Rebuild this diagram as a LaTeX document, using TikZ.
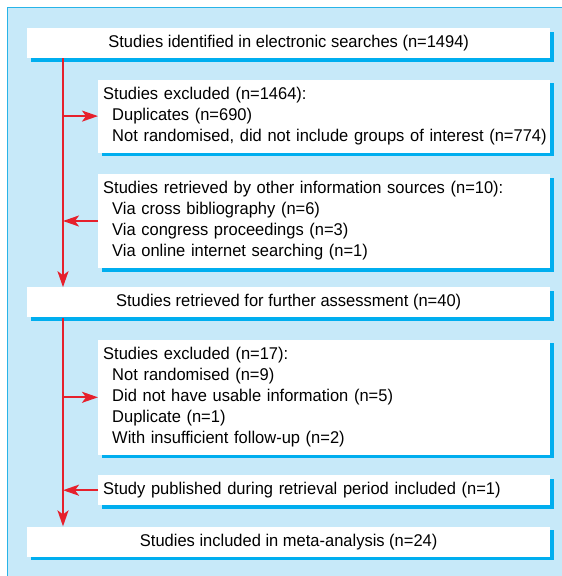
\documentclass[tikz,border=0pt]{standalone}
\usepackage{fontspec}
\setmainfont{Liberation Sans}[FakeStretch=0.97]
\usetikzlibrary{positioning,arrows.meta,shadows}
\definecolor{panelblue}{RGB}{199,233,249}
\definecolor{edgeblue}{RGB}{40,180,232}
\definecolor{shadowblue}{RGB}{0,174,239}
\definecolor{flowred}{RGB}{230,32,44}

\begin{document}
\begin{tikzpicture}[x=1pt, y=-1pt,
    every node/.style={font=\fontsize{17}{21}\selectfont},
    box/.style={rectangle, fill=white, inner xsep=5pt, inner ysep=0pt,
        drop shadow={shadow xshift=3.5pt, shadow yshift=-3.5pt, fill=shadowblue, opacity=1}},
    wide/.style={box, minimum width=523pt, minimum height=30pt},
    side/.style={box, minimum width=452pt, align=left, text width=442pt},
    flow/.style={flowred, line width=2pt, -{Stealth[length=16pt, width=11pt, inset=4pt]}}]

    % background panel
    \useasboundingbox (0,0) rectangle (562,576);
    \fill[panelblue] (7,7) rectangle (562,576);
    \draw[edgeblue, line width=1pt] (7.5,576) -- (7.5,7.5) -- (562,7.5);

    \node[wide, anchor=north west] (ident) at (27,28) {Studies identified in electronic searches (n=1494)};
    \node[side, minimum height=73pt, below=21pt of ident.south east, anchor=north east] (exclA)
        {Studies excluded (n=1464):\\
        \hspace*{9pt}Duplicates (n=690)\\
        \hspace*{9pt}\mbox{Not randomised, did not include groups of interest (n=774)}};
    \node[side, minimum height=94pt, below=21pt of exclA.south east, anchor=north east] (other)
        {Studies retrieved by other information sources (n=10):\\
        \hspace*{9pt}Via cross bibliography (n=6)\\
        \hspace*{9pt}Via congress proceedings (n=3)\\
        \hspace*{9pt}Via online internet searching (n=1)};
    \node[wide, below=19pt of other.south east, anchor=north east] (retr) {Studies retrieved for further assessment (n=40)};
    \node[side, minimum height=115pt, below=22pt of retr.south east, anchor=north east] (exclB)
        {Studies excluded (n=17):\\
        \hspace*{9pt}Not randomised (n=9)\\
        \hspace*{9pt}Did not have usable information (n=5)\\
        \hspace*{9pt}Duplicate (n=1)\\
        \hspace*{9pt}With insufficient follow-up (n=2)};
    \node[side, minimum height=30pt, below=20pt of exclB.south east, anchor=north east] (publ)
        {Study published during retrieval period included (n=1)};
    \node[wide, below=21pt of publ.south east, anchor=north east] (incl) {Studies included in meta-analysis (n=24)};

    % main stream
    \coordinate (top1) at ([xshift=36pt]ident.south west);
    \coordinate (top2) at ([xshift=36pt]retr.south west);
    \draw[flow] (top1) -- (top1 |- retr.north);
    \draw[flow] (top2) -- (top2 |- incl.north);

    % side arrows
    \draw[flow] (top1 |- exclA.west) -- (exclA.west);
    \draw[flow] (other.west) -- (top1 |- other.west);
    \draw[flow] (top2 |- exclB.west) -- (exclB.west);
    \draw[flow] (publ.west) -- (top2 |- publ.west);
\end{tikzpicture}
\end{document}
